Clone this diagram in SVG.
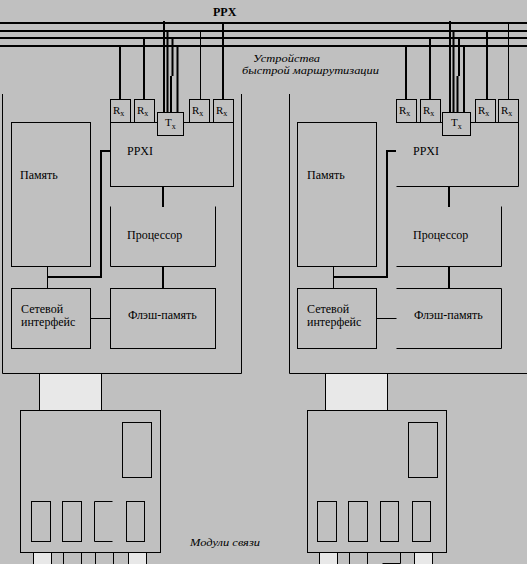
<svg xmlns="http://www.w3.org/2000/svg" width="527" height="564" viewBox="0 0 527 564">
<style>
.t{stroke:#000;stroke-width:1;fill:none}
.b{stroke:#000;stroke-width:2;fill:none}
.box{stroke:#000;stroke-width:1;fill:#c0c0c0}
.lt{stroke:#000;stroke-width:1;fill:#e8e8e8}
text{font-family:'Liberation Serif','DejaVu Serif',serif;fill:#000}
.lbl{font-size:12px}
.it{font-size:11px;font-style:italic}
.rx{font-size:11px}
.sub{font-size:8px}
</style>
<rect x="0" y="0" width="527" height="564" fill="#c0c0c0"/>

<g id="connectors">
  <path class="b" d="M0 23H527M0 31H527M0 38H527M0 46H527"/>
  <path class="b" d="M120 46V99M144 38V99M223 23V99"/>
  <path class="t" d="M200.5 31V99"/>
  <path class="b" d="M164 21V112M167.5 30V112M172.5 38V76M171 76V112M177.5 46V112"/>
  <path class="b" d="M406 46V99M430 38V99M487 31V99"/>
  <path class="t" d="M508.5 23V99"/>
  <path class="b" d="M450 21V112M453.5 30V112M459 38V76M457.5 76V112M464 46V112"/>
  <path class="b" d="M163 186V207M163 266V289"/>
  <path class="b" d="M47.5 277H101V151H110"/>
  <path class="t" d="M47.5 266.5V288.5M90.5 318.5H110.5"/>
  <path class="b" d="M449 186V207M449 266V289"/>
  <path class="b" d="M333.5 277H387V151H396"/>
  <path class="t" d="M333.5 266.5V288.5M376.5 318.5H396.5"/>
  <path class="t" d="M122.5 450.5H89M40 489.5H135.5M72.5 489.5V501.5"/>
  <path class="b" d="M89 450V490M40 489V502M104 489V502M135 489V502"/>
  <path class="t" d="M408.5 450.5H375M327 489.5H420.5M357.5 489.5V501.5M420.5 489.5V501.5"/>
  <path class="b" d="M375 450V490M327 489V502M390 489V502"/>
</g>

<g id="labels">
  <text class="lbl" x="213" y="16" font-weight="bold">PPX</text>
  <text class="it" x="253" y="61.5" textLength="67" lengthAdjust="spacingAndGlyphs">Устройства</text>
  <text class="it" x="242" y="74" textLength="137" lengthAdjust="spacingAndGlyphs">быстрой маршрутизации</text>
  <text class="it" x="190" y="546" textLength="70" lengthAdjust="spacingAndGlyphs">Модули связи</text>
</g>

<g id="unit-left">
  <path class="t" d="M2.5 94V373.5H241.5V94"/>
</g>
<g id="ppxi-left">
  <rect class="box" x="110.5" y="122.5" width="123" height="64"/>
  <text class="lbl" x="127" y="154.5">PPXI</text>
</g>
<g id="rx-left-1"><rect class="box" x="110.5" y="99.5" width="20" height="23"/><text class="rx" x="113" y="114">R<tspan class="sub" dy="2">x</tspan></text></g>
<g id="rx-left-2"><rect class="box" x="134.5" y="99.5" width="20" height="23"/><text class="rx" x="137" y="114">R<tspan class="sub" dy="2">x</tspan></text></g>
<g id="tx-left"><rect class="box" x="157.5" y="112.5" width="26" height="23"/><text class="rx" x="165" y="126">T<tspan class="sub" dy="3">x</tspan></text></g>
<g id="rx-left-3"><rect class="box" x="189.5" y="99.5" width="20" height="23"/><text class="rx" x="192" y="114">R<tspan class="sub" dy="2">x</tspan></text></g>
<g id="rx-left-4"><rect class="box" x="213.5" y="99.5" width="20" height="23"/><text class="rx" x="216" y="114">R<tspan class="sub" dy="2">x</tspan></text></g>
<g id="mem-left">
  <rect class="box" x="11.5" y="122.5" width="79" height="144"/>
  <text class="lbl" x="20" y="179">Память</text>
</g>
<g id="cpu-left">
  <path class="t" d="M110.5 206.5V266.5H215.5V206.5"/>
  <text class="lbl" x="127" y="238.5">Процессор</text>
</g>
<g id="net-left">
  <rect class="box" x="11.5" y="288.5" width="79" height="60"/>
  <text class="lbl" x="21" y="313">Сетевой</text>
  <text class="lbl" x="21" y="326">интерфейс</text>
</g>
<g id="flash-left">
  <rect class="box" x="110.5" y="288.5" width="105" height="60"/>
  <text class="lbl" x="128" y="318.5">Флэш-память</text>
</g>
<g id="link-left"><rect class="lt" x="39.5" y="373.5" width="62" height="37"/></g>
<g id="module-left">
  <rect class="box" x="20.5" y="410.5" width="140" height="142"/>
  <rect class="box" x="122.5" y="422.5" width="29" height="55"/>
  <rect class="box" x="31.5" y="501.5" width="19" height="40"/>
  <rect class="box" x="62.5" y="501.5" width="19" height="40"/>
  <path class="t" d="M112.5 501.5H94.5V541.5H112.5"/>
  <rect class="box" x="126.5" y="501.5" width="18" height="40"/>
  <rect class="lt" x="33.5" y="552.5" width="18" height="14"/>
  <rect class="box" x="63.5" y="552.5" width="18" height="14"/>
  <rect class="box" x="95.5" y="552.5" width="18" height="14"/>
  <rect class="lt" x="128.5" y="552.5" width="18" height="14"/>
</g>

<g id="unit-right">
  <path class="t" d="M289.5 94V373.5H528"/>
</g>
<g id="ppxi-right">
  <path class="t" d="M396.5 122.5H518.5V186.5H396.5"/>
  <text class="lbl" x="413" y="154.5">PPXI</text>
</g>
<g id="rx-right-1"><rect class="box" x="396.5" y="99.5" width="20" height="23"/><text class="rx" x="399" y="114">R<tspan class="sub" dy="2">x</tspan></text></g>
<g id="rx-right-2"><rect class="box" x="420.5" y="99.5" width="20" height="23"/><text class="rx" x="423" y="114">R<tspan class="sub" dy="2">x</tspan></text></g>
<g id="tx-right"><rect class="box" x="442.5" y="112.5" width="28" height="23"/><text class="rx" x="451" y="126">T<tspan class="sub" dy="3">x</tspan></text></g>
<g id="rx-right-3"><rect class="box" x="475.5" y="99.5" width="20" height="23"/><text class="rx" x="478" y="114">R<tspan class="sub" dy="2">x</tspan></text></g>
<g id="rx-right-4"><rect class="box" x="498.5" y="99.5" width="20" height="23"/><text class="rx" x="501" y="114">R<tspan class="sub" dy="2">x</tspan></text></g>
<g id="mem-right">
  <rect class="box" x="297.5" y="122.5" width="79" height="144"/>
  <text class="lbl" x="307" y="179">Память</text>
</g>
<g id="cpu-right">
  <path class="t" d="M396.5 266.5H501.5V206.5"/>
  <text class="lbl" x="413" y="238.5">Процессор</text>
</g>
<g id="net-right">
  <rect class="box" x="297.5" y="288.5" width="79" height="60"/>
  <text class="lbl" x="307" y="313">Сетевой</text>
  <text class="lbl" x="307" y="326">интерфейс</text>
</g>
<g id="flash-right">
  <path class="t" d="M396.5 288.5H501.5V348.5H396.5"/>
  <text class="lbl" x="414" y="318.5">Флэш-память</text>
</g>
<g id="link-right"><rect class="lt" x="325.5" y="373.5" width="62" height="37"/></g>
<g id="module-right">
  <rect class="box" x="307.5" y="410.5" width="139" height="142"/>
  <rect class="box" x="408.5" y="422.5" width="29" height="55"/>
  <rect class="box" x="317.5" y="501.5" width="19" height="40"/>
  <rect class="box" x="348.5" y="501.5" width="19" height="40"/>
  <rect class="box" x="380.5" y="501.5" width="18" height="40"/>
  <rect class="box" x="412.5" y="501.5" width="18" height="40"/>
  <rect class="lt" x="319.5" y="552.5" width="18" height="14"/>
  <rect class="box" x="349.5" y="552.5" width="18" height="14"/>
  <path class="t" d="M382.5 563.5H400.5V552.5"/>
  <rect class="lt" x="414.5" y="552.5" width="18" height="14"/>
</g>
</svg>
